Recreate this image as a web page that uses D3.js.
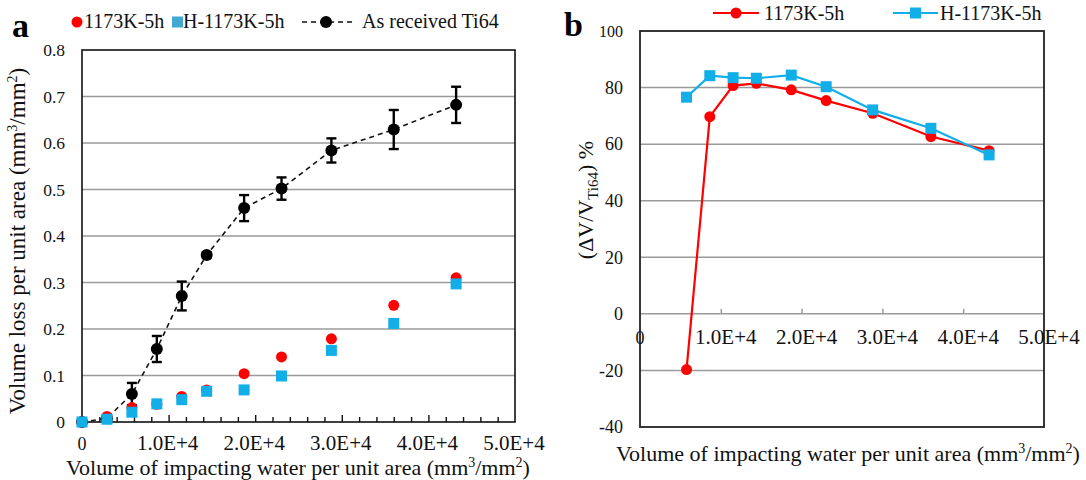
<!DOCTYPE html>
<html>
<head>
<meta charset="utf-8">
<script src="https://cdn.jsdelivr.net/npm/d3@7"></script>
<style>
  body { margin: 0; background: #fff; }
</style>
</head>
<body>
<div id="chart"></div>
<script>
// water volume per unit area (mm3/mm2)
const waterVol = [0, 2880, 5760, 8640, 11520, 14400, 18720, 23040, 28800, 36000, 43200];
// volume loss per unit area (mm3/mm2)
const lossTi64 = [0, 0.008, 0.060, 0.157, 0.271, 0.359, 0.460, 0.502, 0.584, 0.629, 0.682];
const errTi64 = [0, 0.003, 0.024, 0.028, 0.031, 0.006, 0.028, 0.024, 0.026, 0.042, 0.039];
const loss1173 = [0, 0.012, 0.031, 0.038, 0.055, 0.069, 0.104, 0.140, 0.179, 0.251, 0.310];
const lossH1173 = [0, 0.006, 0.021, 0.039, 0.048, 0.066, 0.069, 0.099, 0.154, 0.212, 0.297];

// (dV/V_Ti64) %
const ratioVol = [5760, 8640, 11520, 14400, 18720, 23040, 28800, 36000, 43200];
const ratio1173 = [-19.7, 69.7, 80.7, 81.5, 79.2, 75.4, 70.9, 62.7, 57.7];
const ratioH1173 = [76.6, 84.2, 83.5, 83.3, 84.4, 80.3, 72.1, 65.6, 56.2];

const xTicks = [0, 10000, 20000, 30000, 40000, 50000];
const xTickLabels = ["0", "1.0E+4", "2.0E+4", "3.0E+4", "4.0E+4", "5.0E+4"];
const yTicksA = [0, 0.1, 0.2, 0.3, 0.4, 0.5, 0.6, 0.7, 0.8];
const yTicksB = [-40, -20, 0, 20, 40, 60, 80, 100];

const RED = "#ff0000";
const BLUE = "#12aee8";
const GRID = "#9a9a9a";
const FONT = "'Liberation Serif', 'DejaVu Serif', serif";

const svg = d3.select("#chart")
    .append("svg")
    .attr("width", 1086)
    .attr("height", 480)
    .attr("font-family", FONT);

// 带上标的单位 (mm3/mm2)
const unitTitle = (t, label) => {
    t.append("tspan").text(label + " (mm");
    t.append("tspan").attr("font-size", 14).attr("dy", -8).text("3");
    t.append("tspan").attr("dy", 8).text("/mm");
    t.append("tspan").attr("font-size", 14).attr("dy", -8).text("2");
    t.append("tspan").attr("dy", 8).text(")");
};

// 加一个 x 轴标题 (两个图一样)
const xTitle = (g, x, y) => {
    const t = g.append("text")
        .attr("x", x)
        .attr("y", y)
        .attr("text-anchor", "middle")
        .attr("font-size", 22)
        .attr("fill", "#111");
    unitTitle(t, "Volume of impacting water per unit area");
};

// ================= chart a =================
const xA = d3.scaleLinear().domain([0, 50000]).range([82, 515]);
const yA = d3.scaleLinear().domain([0, 0.8]).range([422, 50]);
const gA = svg.append("g");

// 水平网格线
gA.append("g")
    .selectAll("line")
    .data(yTicksA.slice(1, -1))
    .enter()
    .append("line")
    .attr("x1", xA(0))
    .attr("x2", xA(50000))
    .attr("y1", d => yA(d))
    .attr("y2", d => yA(d))
    .attr("stroke", GRID)
    .attr("stroke-width", 1.5);

// 边框
gA.append("rect")
    .attr("x", xA(0))
    .attr("y", yA(0.8))
    .attr("width", xA(50000) - xA(0))
    .attr("height", yA(0) - yA(0.8))
    .attr("fill", "none")
    .attr("stroke", "#111")
    .attr("stroke-width", 1.6);

// x 轴刻度 (朝内, 每 2000 一个小刻度)
gA.append("g")
    .attr("transform", `translate(0, ${yA(0)})`)
    .call(d3.axisTop(xA).tickValues(d3.range(2000, 50000, 2000)).tickSizeInner(5).tickSizeOuter(0).tickFormat(""))
    .call(g => g.select(".domain").remove())
    .call(g => g.selectAll("line").attr("stroke", "#111").attr("stroke-width", 1.4)
        .attr("y2", d => d % 10000 === 0 ? -7 : -5));

// x 轴标签
gA.append("g")
    .selectAll("text")
    .data(xTicks)
    .enter()
    .append("text")
    .attr("x", d => xA(d) + (d === 0 ? 0 : -1))
    .attr("y", 450)
    .attr("text-anchor", "middle")
    .attr("font-size", d => d === 0 ? 18 : 21)
    .attr("fill", "#111")
    .text((d, i) => xTickLabels[i]);

// y 轴标签
gA.append("g")
    .selectAll("text")
    .data(yTicksA)
    .enter()
    .append("text")
    .attr("x", 65)
    .attr("y", d => yA(d))
    .attr("dy", "0.35em")
    .attr("text-anchor", "end")
    .attr("font-size", 17.5)
    .attr("fill", "#111")
    .text(d => d === 0 ? "0" : d.toFixed(1));

// y 轴标题
const yTitleA = gA.append("text")
    .attr("transform", `translate(25, ${(yA(0) + yA(0.8)) / 2 + 5}) rotate(-90)`)
    .attr("text-anchor", "middle")
    .attr("font-size", 23)
    .attr("fill", "#111");
unitTitle(yTitleA, "Volume loss per unit area");

xTitle(gA, 298, 475);

// Ti64 虚线
const lineA = d3.line()
    .x((d, i) => xA(waterVol[i]))
    .y(d => yA(d));

gA.append("path")
    .datum(lossTi64)
    .attr("d", lineA)
    .attr("fill", "none")
    .attr("stroke", "#111")
    .attr("stroke-width", 1.6)
    .attr("stroke-dasharray", "5,4");

// 误差棒
const errG = gA.append("g")
    .selectAll("g")
    .data(lossTi64)
    .enter()
    .append("g")
    .attr("stroke", "#000")
    .attr("stroke-width", 2.4);
errG.append("line")
    .attr("x1", (d, i) => xA(waterVol[i]))
    .attr("x2", (d, i) => xA(waterVol[i]))
    .attr("y1", (d, i) => yA(d - errTi64[i]))
    .attr("y2", (d, i) => yA(d + errTi64[i]));
errG.append("line")
    .attr("x1", (d, i) => xA(waterVol[i]) - 5)
    .attr("x2", (d, i) => xA(waterVol[i]) + 5)
    .attr("y1", (d, i) => yA(d + errTi64[i]))
    .attr("y2", (d, i) => yA(d + errTi64[i]));
errG.append("line")
    .attr("x1", (d, i) => xA(waterVol[i]) - 5)
    .attr("x2", (d, i) => xA(waterVol[i]) + 5)
    .attr("y1", (d, i) => yA(d - errTi64[i]))
    .attr("y2", (d, i) => yA(d - errTi64[i]));

gA.append("g")
    .selectAll("circle")
    .data(lossTi64)
    .enter()
    .append("circle")
    .attr("cx", (d, i) => xA(waterVol[i]))
    .attr("cy", d => yA(d))
    .attr("r", 6)
    .attr("fill", "#000");

// 1173K-5h 红点
gA.append("g")
    .selectAll("circle")
    .data(loss1173)
    .enter()
    .append("circle")
    .attr("cx", (d, i) => xA(waterVol[i]))
    .attr("cy", d => yA(d))
    .attr("r", 5.5)
    .attr("fill", RED);

// H-1173K-5h 蓝方块
gA.append("g")
    .selectAll("rect")
    .data(lossH1173)
    .enter()
    .append("rect")
    .attr("x", (d, i) => xA(waterVol[i]) - 5.5)
    .attr("y", d => yA(d) - 5.5)
    .attr("width", 11)
    .attr("height", 11)
    .attr("fill", BLUE);

// 图例 a
svg.append("text")
    .attr("x", 12)
    .attr("y", 37)
    .attr("font-size", 34)
    .attr("font-weight", "bold")
    .text("a");

const legA = svg.append("g").attr("font-size", 20).attr("fill", "#111");
legA.append("circle").attr("cx", 77).attr("cy", 22).attr("r", 5.5).attr("fill", RED);
legA.append("text").attr("x", 84).attr("y", 28).text("1173K-5h");
legA.append("rect").attr("x", 172).attr("y", 16.5).attr("width", 11).attr("height", 11).attr("fill", "#3fa9cf");
legA.append("text").attr("x", 183).attr("y", 28).text("H-1173K-5h");
legA.append("line").attr("x1", 302).attr("x2", 355).attr("y1", 22).attr("y2", 22)
    .attr("stroke", "#111").attr("stroke-width", 1.6).attr("stroke-dasharray", "5,4");
legA.append("circle").attr("cx", 326).attr("cy", 22).attr("r", 6).attr("fill", "#000");
legA.append("text").attr("x", 362).attr("y", 28).text("As received Ti64");

// ================= chart b =================
const xB = d3.scaleLinear().domain([0, 50000]).range([640, 1044]);
const yB = d3.scaleLinear().domain([-40, 100]).range([427, 31]);
const gB = svg.append("g");

// 水平网格线
gB.append("g")
    .selectAll("line")
    .data(yTicksB.slice(1, -1))
    .enter()
    .append("line")
    .attr("x1", xB(0))
    .attr("x2", xB(50000))
    .attr("y1", d => yB(d))
    .attr("y2", d => yB(d))
    .attr("stroke", GRID)
    .attr("stroke-width", 1.5);

gB.append("rect")
    .attr("x", xB(0))
    .attr("y", yB(100))
    .attr("width", xB(50000) - xB(0))
    .attr("height", yB(-40) - yB(100))
    .attr("fill", "none")
    .attr("stroke", "#222")
    .attr("stroke-width", 1.8);

// x 轴在 0 上, 刻度朝上
gB.append("g")
    .attr("transform", `translate(0, ${yB(0)})`)
    .call(d3.axisTop(xB).tickValues(xTicks.slice(1, -1)).tickSizeInner(5).tickSizeOuter(0).tickFormat(""))
    .call(g => g.select(".domain").remove())
    .call(g => g.selectAll("line").attr("stroke", GRID).attr("stroke-width", 1.5));

gB.append("g")
    .selectAll("text")
    .data(xTicks)
    .enter()
    .append("text")
    .attr("x", d => xB(d) + (d === 0 ? 0 : 5))
    .attr("y", 344)
    .attr("text-anchor", "middle")
    .attr("font-size", d => d === 0 ? 18 : 21)
    .attr("fill", "#111")
    .text((d, i) => xTickLabels[i]);

gB.append("g")
    .selectAll("text")
    .data(yTicksB)
    .enter()
    .append("text")
    .attr("x", 623)
    .attr("y", d => yB(d))
    .attr("dy", "0.35em")
    .attr("text-anchor", "end")
    .attr("font-size", d => d === 100 ? 16 : 18)
    .attr("fill", "#111")
    .text(d => d);

// y 轴标题 (ΔV/V_Ti64) %
const yTitleB = gB.append("text")
    .attr("transform", `translate(593, 200) rotate(-90)`)
    .attr("text-anchor", "middle")
    .attr("font-size", 22)
    .attr("fill", "#111");
yTitleB.append("tspan").text("(ΔV/V");
yTitleB.append("tspan").attr("font-size", 15).attr("dy", 5).text("Ti64");
yTitleB.append("tspan").attr("dy", -5).text(") %");

xTitle(gB, 848, 461);

const lineB = d3.line()
    .x((d, i) => xB(ratioVol[i]))
    .y(d => yB(d));

// 1173K-5h
gB.append("path")
    .datum(ratio1173)
    .attr("d", lineB)
    .attr("fill", "none")
    .attr("stroke", RED)
    .attr("stroke-width", 2.2);
gB.append("g")
    .selectAll("circle")
    .data(ratio1173)
    .enter()
    .append("circle")
    .attr("cx", (d, i) => xB(ratioVol[i]))
    .attr("cy", d => yB(d))
    .attr("r", 5.5)
    .attr("fill", RED);

// H-1173K-5h
gB.append("path")
    .datum(ratioH1173)
    .attr("d", lineB)
    .attr("fill", "none")
    .attr("stroke", BLUE)
    .attr("stroke-width", 2.2);
gB.append("g")
    .selectAll("rect")
    .data(ratioH1173)
    .enter()
    .append("rect")
    .attr("x", (d, i) => xB(ratioVol[i]) - 5.5)
    .attr("y", d => yB(d) - 5.5)
    .attr("width", 11)
    .attr("height", 11)
    .attr("fill", BLUE);

// 图例 b
svg.append("text")
    .attr("x", 564)
    .attr("y", 36)
    .attr("font-size", 34)
    .attr("font-weight", "bold")
    .text("b");

const legB = svg.append("g").attr("font-size", 20).attr("fill", "#111");
legB.append("line").attr("x1", 713).attr("x2", 759).attr("y1", 13).attr("y2", 13)
    .attr("stroke", RED).attr("stroke-width", 2.2);
legB.append("circle").attr("cx", 736).attr("cy", 13).attr("r", 5.5).attr("fill", RED);
legB.append("text").attr("x", 764).attr("y", 20).text("1173K-5h");
legB.append("line").attr("x1", 893).attr("x2", 938).attr("y1", 13).attr("y2", 13)
    .attr("stroke", BLUE).attr("stroke-width", 2.2);
legB.append("rect").attr("x", 910).attr("y", 7.5).attr("width", 11).attr("height", 11).attr("fill", BLUE);
legB.append("text").attr("x", 940).attr("y", 20).text("H-1173K-5h");
</script>
</body>
</html>
